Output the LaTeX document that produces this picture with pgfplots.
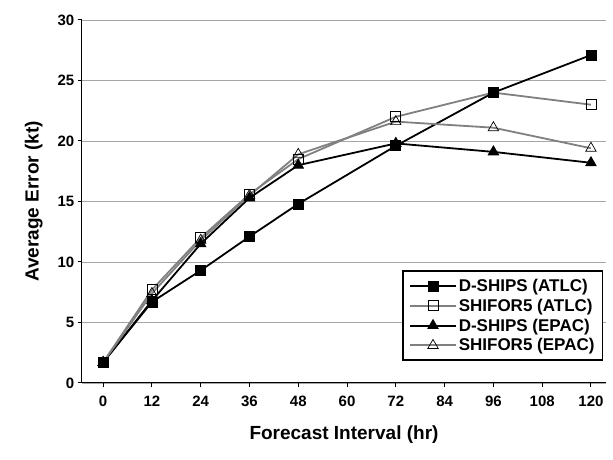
\documentclass[border=0pt]{standalone}
\usepackage{pgfplots}
\pgfplotsset{compat=1.18}
\usepackage{fontspec}
\setmainfont{Liberation Sans}
\begin{document}
\begin{tikzpicture}
\useasboundingbox (-82pt,-77pt) rectangle (531pt,383pt);
\begin{axis}[at={(0,0)}, anchor=south west,
  width=524pt, height=363pt, scale only axis,
  xmin=-5.2, xmax=123.7, ymin=0, ymax=30,
  xtick={0,12,...,120}, ytick={0,5,...,30},
  ymajorgrids, grid style={gray!70, line width=0.8pt},
  axis x line*=bottom, axis y line*=left,
  tick style={black, line width=1pt}, tick align=outside,
  ticklabel style={font=\bfseries\fontsize{15}{17}\selectfont},
  xticklabel style={yshift=-5pt},
  /pgf/number format/assume math mode=true,
  xlabel={\bfseries Forecast Interval (hr)}, ylabel={\bfseries Average Error (kt)},
  label style={font=\bfseries\fontsize{19}{21}\selectfont},
  xlabel style={yshift=-12pt}, ylabel style={yshift=8pt},
  axis line style={line width=1pt},
  legend style={at={(0.995,0.06)}, anchor=south east, draw=black, line width=1.8pt, font=\bfseries\fontsize{17}{26}\selectfont, inner sep=6pt, row sep=2pt},
  legend cell align=left,
  legend image code/.code={\draw[#1, line width=2pt] (0cm,0cm) -- (0.8cm,0cm) plot coordinates {(0.8cm,0cm)} -- (1.6cm,0cm);},
]
\addplot[black, line width=1.8pt, mark=square*, mark size=5pt, mark options={solid,line width=0.8pt}] coordinates {(0,1.7)(12,6.7)(24,9.3)(36,12.1)(48,14.8)(72,19.6)(96,24.0)(120,27.1)};
\addlegendentry{D-SHIPS (ATLC)}
\addplot[gray, line width=1.8pt, mark=square, mark size=5pt, mark options={solid,black,fill=white,line width=0.8pt}] coordinates {(0,1.7)(12,7.7)(24,12.0)(36,15.6)(48,18.5)(72,22.0)(96,24.0)(120,23.0)};
\addlegendentry{SHIFOR5 (ATLC)}
\addplot[black, line width=1.8pt, mark=triangle*, mark size=6pt, mark options={solid,line width=0.8pt}] coordinates {(0,1.7)(12,6.8)(24,11.5)(36,15.3)(48,18.0)(72,19.8)(96,19.1)(120,18.2)};
\addlegendentry{D-SHIPS (EPAC)}
\addplot[gray, line width=1.8pt, mark=triangle, mark size=6pt, mark options={solid,black,fill=white,line width=0.7pt}] coordinates {(0,1.7)(12,7.4)(24,11.8)(36,15.5)(48,18.9)(72,21.6)(96,21.1)(120,19.4)};
\addlegendentry{SHIFOR5 (EPAC)}
\end{axis}
\end{tikzpicture}
\end{document}
